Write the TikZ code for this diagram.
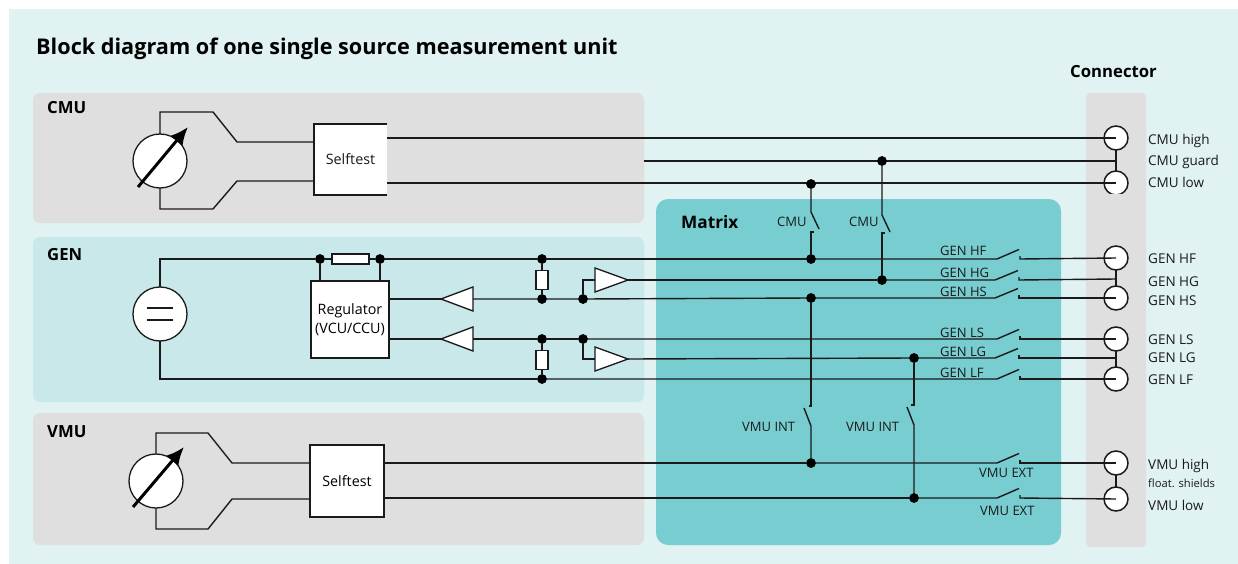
\documentclass[tikz,border=0pt]{standalone}
\usepackage{fontspec}
\usetikzlibrary{arrows.meta,calc}
\setmainfont{Open Sans}
\definecolor{bgpale}{HTML}{E0F2F2}
\definecolor{panelgray}{HTML}{DFDFDF}
\definecolor{panelgen}{HTML}{C8E8EA}
\definecolor{panelmatrix}{HTML}{78CDD0}
\definecolor{ink}{HTML}{1A1A1A}
\begin{document}
\begin{tikzpicture}[x=1pt,y=-1pt,
  wire/.style={line width=1.4pt,draw=ink,line join=miter},
  thinwire/.style={line width=1.3pt,draw=ink},
  panel/.style={rounded corners=7pt,draw=none},
  jdot/.style={circle,fill=black,draw=none,minimum size=9.5pt,inner sep=0pt,outer sep=0pt},
  term/.style={circle,fill=white,draw=ink,line width=1.5pt,minimum size=24pt,inner sep=0pt,outer sep=0pt},
  meter/.style={circle,fill=white,draw=ink,line width=1.3pt,minimum size=54pt,inner sep=0pt,outer sep=0pt},
  whitebox/.style={rectangle,fill=white,draw=ink,line width=1.5pt,inner sep=0pt,outer sep=0pt,align=center,font=\fontsize{14.3}{19}\selectfont},
  res/.style={rectangle,fill=white,draw=ink,line width=1.4pt,inner sep=0pt,outer sep=0pt},
  amp/.style={fill=white,draw=ink,line width=1.3pt,line join=miter},
  head/.style={anchor=base west,font=\fontsize{16.7}{20}\bfseries\selectfont,text=black,inner sep=0pt},
  lab/.style={anchor=base west,font=\fontsize{13.5}{16}\selectfont,text=ink,inner sep=0pt},
  swlab/.style={anchor=base west,font=\fontsize{13}{16}\selectfont,text=ink,inner sep=0pt},
  pointer/.style={line width=3pt,draw=black,-{Latex[length=18pt,width=16pt]}}
]
\useasboundingbox (0,0) rectangle (1238,564);
\fill[white] (0,0) rectangle (1238,564);
\fill[bgpale] (9,9) rectangle (1238,564);
% panels
\fill[panelgray,panel] (33,93) rectangle (644,223);
\fill[panelgen,panel] (33,237) rectangle (644,402);
\fill[panelgray,panel] (33,413) rectangle (644,545);
\fill[panelmatrix,rounded corners=12pt] (656,199) rectangle (1061,545);
\fill[panelgray,rounded corners=4pt] (1086,93) rectangle (1146,547);
% nodes
\node[term] (tCH) at (1116,138) {};
\node[term] (tCL) at (1116,183) {};
\node[term] (tHF) at (1116,258) {};
\node[term] (tHS) at (1116,298) {};
\node[term] (tLS) at (1116,339) {};
\node[term] (tLF) at (1116,379) {};
\node[term] (tVH) at (1116,463) {};
\node[term] (tVL) at (1116,499) {};
\foreach \n/\x/\y in {cG/644/161,jCH/1116/161,jHG/1116/279,jLG/1116/358,
   cmA/160/112,cmB/213/112,cmC/237/142,cmD/160/209,cmE/213/209,cmF/237/181,
   vmA/156/433,vmB/208/433,vmC/232/463,vmD/156/529,vmE/208/529,vmF/232/499,
   gTop/160/259,gBot/160/379,
   aT1/473/299,aT2/441/299,aB1/473/339,aB2/441/339,
   bT1/595/280,bT2/628/280,bB1/595/359,bB2/628/359,
   kT/583/280,kB/583/359}
  {\coordinate (\n) at (\x,\y);}
% selftest, meters, sources and blocks
\node[whitebox,minimum width=74pt,minimum height=72pt] (stV) at (347,481) {Selftest};
\node[whitebox,minimum width=78pt,minimum height=77pt] (reg) at (350,319.5) {Regulator\\(VCU/CCU)};
\node[meter] (mC) at (160,161) {};
\node[meter] (mV) at (156,481) {};
\node[meter] (src) at (160,314) {};
\node[rectangle,fill=white,inner sep=0pt,outer sep=0pt,minimum width=73pt,minimum height=71pt,
      font=\fontsize{14.3}{19}\selectfont,text=ink] (stC) at (350.5,159.5) {Selftest};
% wires: CMU
\draw[wire] (mC.north) -- (cmA) -- (cmB) -- (cmC) -- (stC.west |- cmC);
\draw[wire] (mC.south) -- (cmD) -- (cmE) -- (cmF) -- (stC.west |- cmF);
\draw[wire] (stC.north east) -- (stC.north west) -- (stC.south west) -- (stC.south east);
\draw[wire] (stC.east |- tCH) -- (tCH.center);
\draw[wire] (cG) -- (jCH);
\draw[wire] (stC.east |- tCL) -- (tCL.center);
\draw[wire] (tCH.south) -- (tCL.north);
\fill[panelgray] (1102,193.6) rectangle (1130,198);
% wires: VMU
\draw[wire] (mV.north) -- (vmA) -- (vmB) -- (vmC) -- (stV.west |- vmC);
\draw[wire] (mV.south) -- (vmD) -- (vmE) -- (vmF) -- (stV.west |- vmF);
% terminals link
\draw[wire] (tHF.south) -- (tHS.north);
\draw[wire] (tLS.south) -- (tLF.north);
\draw[wire] (tVH.south) -- (tVL.north);
% dots
\foreach \n/\x/\y in {dRa/320/259,dRb/380/259,dA/542/259,dB/542/299,dC/583/299,
    dD/542/339,dE/583/339,dF/542/379,
    mA/811/184,mB/811/259,mC2/882/161,mD/882/280,mE/811/298,mF/811/463,mG/914/358,mH/914/498}
  {\node[jdot] (\n) at (\x,\y) {};}
% source wires
\draw[wire] (src.north) -- (gTop) -- (dRa) -- (dRb) -- (dA) -- (mB);
\draw[wire] (src.south) -- (gBot) -- (dF);
\draw[thinwire] ($(src.center)+(-13,-6)$) -- ($(src.center)+(13,-6)$);
\draw[thinwire] ($(src.center)+(-13,6)$) -- ($(src.center)+(13,6)$);
\draw[wire] (dRa) -- (dRa |- reg.north);
\draw[wire] (dRb) -- (dRb |- reg.north);
\node[res,minimum width=37pt,minimum height=10pt] (rS) at (350.5,259) {};
\draw[wire] (dA) -- (dB);
\draw[wire] (dD) -- (dF);
\node[res,minimum width=12pt,minimum height=19pt] (rT) at (542,280) {};
\node[res,minimum width=12pt,minimum height=19pt] (rB) at (542,360) {};
% regulator feedback
\draw[wire] (reg.east |- aT2) -- (aT2);
\draw[wire] (reg.east |- aB2) -- (aB2);
\draw[wire] (aT1) -- (dB) -- (dC) -- (mE);
\draw[wire] (aB1) -- (dD) -- (dE);
\draw[wire] (dC) -- (kT) -- (bT1);
\draw[wire] (dE) -- (kB) -- (bB1);
\draw[amp] (aT2) -- (473,287) -- (473,311) -- cycle;
\draw[amp] (aB2) -- (473,327) -- (473,351) -- cycle;
\draw[amp] (595,268) -- (bT2) -- (595,292) -- cycle;
\draw[amp] (595,347) -- (bB2) -- (595,371) -- cycle;
\draw[wire] (bT2) -- (mD);
% horizontal switches: start, arm begin, arm end, contact x, y, end
\foreach \from/\ax/\bx/\cx/\y/\to in {
   mB/997/1019/1020/259/tHF,
   mD/995/1018/1019/280/jHG,
   mE/995/1018/1019/298/tHS,
   dE/997/1019/1020/339/tLS,
   mG/995/1018/1019/358/jLG,
   dF/997/1019/1020/379/tLF,
   mF/997/1019/1020/463/tVH,
   mH/997/1019/1020/498/tVL}
{
  \draw[wire] (\from) -- (\ax,\y) -- (\bx,\y-9.5);
  \draw[wire] (\cx,\y-3) -- (\cx,\y) -- (\to.center);
}
\draw[wire] (bB2) -- (mG);
\draw[wire] (mH) -- (stV.east |- mH);
\draw[wire] (mF) -- (stV.east |- mF);
% vertical CMU switches
\draw[wire] (mA) -- (811,212) -- (819,229);
\draw[wire] (814,232) -- (811,232) -- (mB);
\draw[wire] (mC2) -- (882,215) -- (890,232);
\draw[wire] (885,233) -- (882,233) -- (mD);
% vertical VMU switches
\draw[wire] (mE) -- (811,406) -- (809,406);
\draw[wire] (804,408) -- (811,426) -- (mF);
\draw[wire] (mG) -- (914,405) -- (911,405);
\draw[wire] (907,407) -- (914,425) -- (mH);
% meter pointers
\draw[pointer] (138,187) -- (188,127);
\draw[pointer] (133,507) -- (184,447);
% dots on top of the wires
\foreach \n in {dRa,dRb,dA,dB,dC,dD,dE,dF,mA,mB,mC2,mD,mE,mF,mG,mH}
  {\fill[black] (\n) circle (4.75pt);}
% headings
\node[head,font=\fontsize{21.65}{26}\bfseries\selectfont] (title) at (36,55) {Block diagram of one single source measurement unit};
\node[head] (hConn) at (1070,78) {Connector};
\node[head] (hCMU) at (47,114) {CMU};
\node[head] (hGEN) at (47,260) {GEN};
\node[head] (hVMU) at (47,437) {VMU};
\node[head,font=\fontsize{17.2}{20}\bfseries\selectfont] (hMat) at (681,228) {Matrix};
% right labels
\foreach \n/\y/\t in {a/145/CMU high,b/165/CMU guard,c/187/CMU low,d/263/GEN HF,e/286/GEN HG,f/305/GEN HS,
   g/344/GEN LS,h/362/GEN LG,i/384/GEN LF,j/469/VMU high,k/510/VMU low}
  {\node[lab] (r\n) at (1148,\y) {\t};}
\node[lab,font=\fontsize{11.2}{13}\selectfont] (rfs) at (1148,487) {float. shields};
% switch labels
\foreach \n/\x/\y/\t in {a/777/226/CMU,b/849/226/CMU,c/940/255/GEN HF,d/940/277/GEN HG,e/940/296/GEN HS,
   f/940/337/GEN LS,g/940/356/GEN LG,h/940/377/GEN LF,i/742/431/VMU INT,j/846/431/VMU INT,k/979/477/VMU EXT,l/980/515/VMU EXT}
  {\node[swlab] (s\n) at (\x,\y) {\t};}
\end{tikzpicture}
\end{document}
